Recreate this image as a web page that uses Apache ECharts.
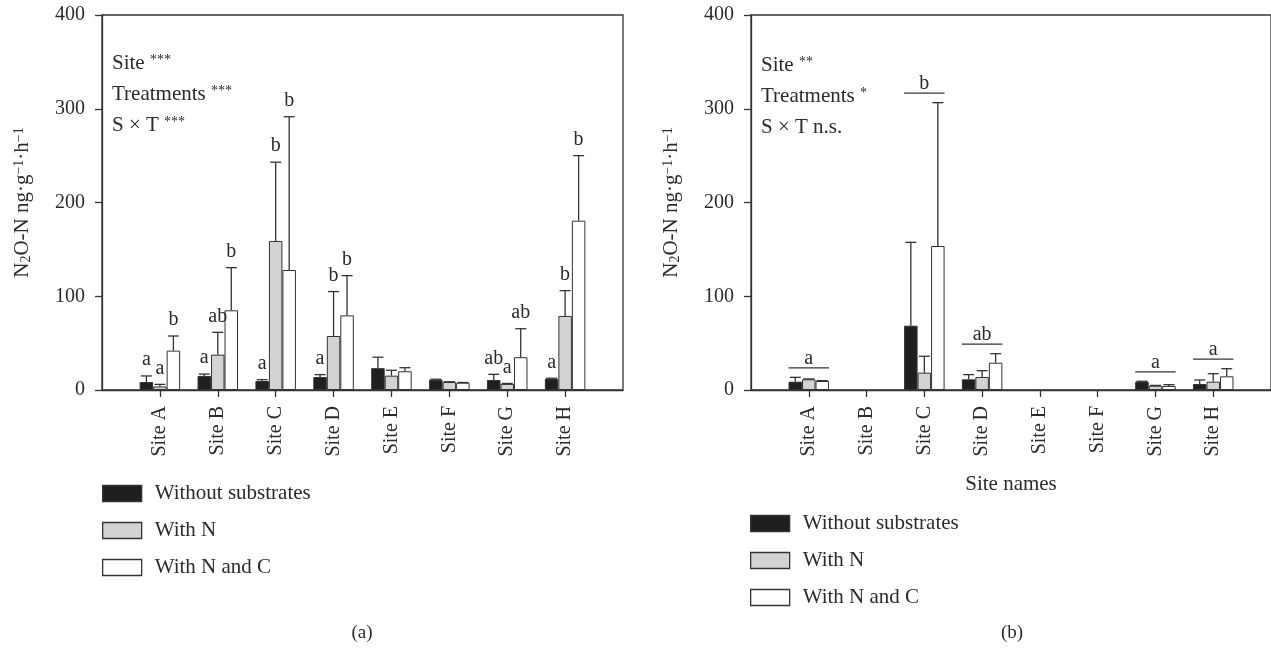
<!DOCTYPE html>
<html><head><meta charset="utf-8">
<script src="https://cdn.jsdelivr.net/npm/echarts@6/dist/echarts.min.js"></script>
<style>html,body{margin:0;padding:0;background:#fff}#c{width:1271px;height:650px}</style>
</head><body><div id="c"></div>
<script>
// ---------- data ----------
const sites = ['Site A','Site B','Site C','Site D','Site E','Site F','Site G','Site H'];
const seriesNames = ['Without substrates','With N','With N and C'];
const yTicks = [0, 100, 200, 300, 400];

// panel (a): means and upper error (SD) per site
const aWithout     = [8.5, 15, 9.6, 13.9, 23.3, 11, 10.7, 12];
const aWithoutErr  = [6.5, 2, 1.4, 2.5, 11.7, 0.5, 6, 0.5];
const aWithN       = [3.8, 37.7, 159, 57.6, 15.3, 8.5, 6.5, 79];
const aWithNErr    = [2.2, 23.8, 84, 47.4, 5.7, 0.3, 0.5, 27];
const aWithNC      = [42, 85, 128, 79.6, 20, 7.8, 35, 180.6];
const aWithNCErr   = [15.6, 45.5, 163.5, 42.4, 3.8, 0.2, 30.4, 69.4];
const aLetWithout  = ['a','a','a','a','','','ab','a'];
const aLetWithN    = ['a','ab','b','b','','','a','b'];
const aLetWithNC   = ['b','b','b','b','','','ab','b'];

// panel (b)
const bWithout     = [8.9, null, 68.6, 11.4, null, null, 8.9, 6.4];
const bWithoutErr  = [4.6, null, 88.9, 5, null, null, 0.4, 4.3];
const bWithN       = [11.4, null, 18.5, 13.9, null, null, 4.6, 8.9];
const bWithNErr    = [0.4, null, 17.5, 6.7, null, null, 0.3, 8.5];
const bWithNC      = [9.6, null, 153.6, 29.1, null, null, 4.3, 14.6];
const bWithNCErr   = [0.4, null, 152.9, 9.6, null, null, 1.4, 8.1];
const bGroupLetters = ['a','','b','ab','','','a','a'];

// ---------- style ----------
const FONT = "'Liberation Serif','Times New Roman',serif";
const INK = '#2b2b2b';
const LINE = '#333';
const COLORS = ['#1f1f1f', '#d3d3d3', '#ffffff'];
const BAR_W = 13.5, CAP_W = 11;

const catData = ['', ...sites, ''];

function barSeries(name, vals, color, xi) {
  return { name, type: 'bar', xAxisIndex: xi, yAxisIndex: xi, barWidth: BAR_W, barGap: '0%',
    itemStyle: { color, borderColor: LINE, borderWidth: 1 }, z: 2,
    data: [null, ...vals, null] };
}
function errSeries(vals, errs, letters, slot, xi) {
  const items = [], labs = [];
  vals.forEach((v, i) => { if (v == null) return; items.push([i + 1, v, v + errs[i]]); labs.push(letters ? letters[i] : ''); });
  return { type: 'custom', xAxisIndex: xi, yAxisIndex: xi, z: 4, silent: true,
    encode: { x: 0, y: [1, 2] }, data: items,
    renderItem(params, api) {
      const p0 = api.coord([api.value(0), api.value(1)]);
      const p1 = api.coord([api.value(0), api.value(2)]);
      const cx = p0[0] + (slot - 1) * BAR_W;
      const ch = [
        { type: 'line', shape: { x1: cx, y1: p0[1], x2: cx, y2: p1[1] }, style: { stroke: LINE, lineWidth: 1.3 } },
        { type: 'line', shape: { x1: cx - CAP_W / 2, y1: p1[1], x2: cx + CAP_W / 2, y2: p1[1] }, style: { stroke: LINE, lineWidth: 1.3 } }
      ];
      const lab = labs[params.dataIndex];
      if (lab) ch.push({ type: 'text', style: { text: lab, x: cx, y: p1[1] - 6, align: 'center', verticalAlign: 'bottom',
        fontSize: 20, fontFamily: FONT, fill: INK } });
      return { type: 'group', children: ch };
    } };
}
function groupSeries(letters, means, errs, xi) {
  const items = [], labs = [];
  letters.forEach((l, i) => {
    if (!l) return;
    let top = 0;
    means.forEach((m, k) => { if (m[i] != null) top = Math.max(top, m[i] + errs[k][i]); });
    items.push([i + 1, top]); labs.push(l);
  });
  return { type: 'custom', xAxisIndex: xi, yAxisIndex: xi, z: 4, silent: true,
    encode: { x: 0, y: 1 }, data: items,
    renderItem(params, api) {
      const p = api.coord([api.value(0), api.value(1)]);
      const ly = p[1] - 9.5, hw = 1.5 * BAR_W;
      return { type: 'group', children: [
        { type: 'line', shape: { x1: p[0] - hw, y1: ly, x2: p[0] + hw, y2: ly }, style: { stroke: LINE, lineWidth: 1.3 } },
        { type: 'text', style: { text: labs[params.dataIndex], x: p[0], y: ly + 1, align: 'center', verticalAlign: 'bottom',
          fontSize: 20, fontFamily: FONT, fill: INK } }
      ] };
    } };
}

function xAxis(gi, name) {
  return { type: 'category', gridIndex: gi, data: catData, boundaryGap: false,
    axisLine: { lineStyle: { color: LINE, width: 1.3 } },
    axisTick: { length: 7, interval: (i) => i >= 1 && i <= sites.length, lineStyle: { color: LINE, width: 1.3 } },
    axisLabel: { interval: 0, rotate: 90, margin: 16, fontSize: 20, fontFamily: FONT, color: INK },
    name: name || '', nameLocation: 'middle', nameGap: 84,
    nameTextStyle: { fontSize: 21, fontFamily: FONT, color: INK } };
}
const yRich = {
  n: { fontSize: 21, fontFamily: FONT, color: INK },
  sub: { fontSize: 14, fontFamily: FONT, color: INK, verticalAlign: 'bottom' },
  sup: { fontSize: 14, fontFamily: FONT, color: INK, verticalAlign: 'top' }
};
function yAxis(gi) {
  return { type: 'value', gridIndex: gi, min: yTicks[0], max: yTicks[yTicks.length - 1], interval: yTicks[1] - yTicks[0],
    splitLine: { show: false },
    axisLine: { show: true, lineStyle: { color: LINE, width: 1.3 } },
    axisTick: { show: true, length: 7, lineStyle: { color: LINE, width: 1.3 } },
    axisLabel: { margin: 17, fontSize: 20, fontFamily: FONT, color: INK },
    name: '{n|N}{sub|2}{n|O-N ng·g}{sup|−1}{n|·h}{sup|−1}', nameLocation: 'middle', nameGap: 69,
    nameTextStyle: { fontSize: 21, fontFamily: FONT, color: INK, rich: yRich } };
}
const annRich = {
  t: { fontSize: 21, fontFamily: FONT, fontWeight: 'normal', color: INK, lineHeight: 31 },
  s: { fontSize: 14, fontFamily: FONT, fontWeight: 'normal', color: INK, lineHeight: 14, verticalAlign: 'top', padding: [5, 0, 0, 0] }
};
function legend(left, top) {
  return { left, top, padding: 0, orient: 'vertical', icon: 'rect', itemWidth: 39, itemHeight: 16, itemGap: 16,
    selectedMode: false, data: seriesNames,
    itemStyle: { borderColor: LINE, borderWidth: 1.3 },
    textStyle: { fontSize: 21, fontFamily: FONT, color: INK, lineHeight: 16, padding: [0, 0, 0, 8] } };
}

const option = {
  animation: false,
  backgroundColor: '#fff',
  grid: [
    { left: 102, top: 15, width: 521, height: 375, show: true, borderColor: LINE, borderWidth: 1.3 },
    { left: 751, top: 15, width: 522, height: 375, show: true, borderColor: LINE, borderWidth: 1.3 }
  ],
  xAxis: [xAxis(0), xAxis(1, 'Site names')],
  yAxis: [yAxis(0), yAxis(1)],
  legend: [legend(102, 483), legend(750, 513)],
  title: [
    { left: 112, top: 48, padding: 0, text: '{t|Site }{s|***}\n{t|Treatments }{s|***}\n{t|S × T }{s|***}', textStyle: { fontWeight: 'normal', rich: annRich } },
    { left: 761, top: 50, padding: 0, text: '{t|Site }{s|**}\n{t|Treatments }{s|*}\n{t|S × T n.s.}', textStyle: { fontWeight: 'normal', rich: annRich } }
  ],
  graphic: [
    { type: 'text', x: 362, y: 633, style: { text: '(a)', fontSize: 19, fontFamily: FONT, fill: INK, align: 'center', verticalAlign: 'middle' } },
    { type: 'text', x: 1012, y: 633, style: { text: '(b)', fontSize: 19, fontFamily: FONT, fill: INK, align: 'center', verticalAlign: 'middle' } }
  ],
  series: [
    barSeries(seriesNames[0], aWithout, COLORS[0], 0),
    barSeries(seriesNames[1], aWithN, COLORS[1], 0),
    barSeries(seriesNames[2], aWithNC, COLORS[2], 0),
    errSeries(aWithout, aWithoutErr, aLetWithout, 0, 0),
    errSeries(aWithN, aWithNErr, aLetWithN, 1, 0),
    errSeries(aWithNC, aWithNCErr, aLetWithNC, 2, 0),
    barSeries(seriesNames[0], bWithout, COLORS[0], 1),
    barSeries(seriesNames[1], bWithN, COLORS[1], 1),
    barSeries(seriesNames[2], bWithNC, COLORS[2], 1),
    errSeries(bWithout, bWithoutErr, null, 0, 1),
    errSeries(bWithN, bWithNErr, null, 1, 1),
    errSeries(bWithNC, bWithNCErr, null, 2, 1),
    groupSeries(bGroupLetters, [bWithout, bWithN, bWithNC], [bWithoutErr, bWithNErr, bWithNCErr], 1)
  ]
};
const chart = echarts.init(document.getElementById('c'), null, { renderer: 'canvas' });
chart.setOption(option);
</script></body></html>
